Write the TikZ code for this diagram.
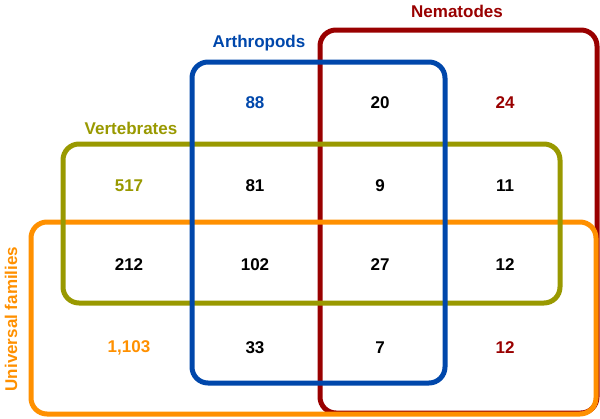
\documentclass[tikz,border=0pt]{standalone}
\usepackage{fontspec}
\setmainfont{Liberation Sans}
\definecolor{nemred}{HTML}{990000}
\definecolor{artblue}{HTML}{0047AB}
\definecolor{vertolive}{HTML}{999900}
\definecolor{univorange}{HTML}{FF9000}
\begin{document}
\begin{tikzpicture}[x=1pt,y=-1pt,
  setbox/.style={line width=5pt,rounded corners=16pt},
  num/.style={font=\fontsize{17}{20}\selectfont\bfseries,text=black},
  lab/.style={font=\fontsize{17}{20}\selectfont\bfseries}]
\useasboundingbox (0,0) rectangle (600,418);
% sets
\draw[setbox,nemred] (320,30) rectangle (597,413);
\draw[setbox,univorange] (31,222) rectangle (596,414);
\draw[setbox,vertolive] (63,144) rectangle (560,303);
\draw[setbox,artblue] (192,62) rectangle (445,383);
% labels
\node[lab,text=nemred] (lnem) at (457,11) {Nematodes};
\node[lab,text=artblue] (lart) at (259,43) {Arthropods};
\node[lab,text=vertolive] (lvert) at (131,128) {Vertebrates};
\node[lab,text=univorange,rotate=90] (luni) at (11,319) {Universal families};
% numbers
\node[num,text=artblue] (n88) at (255,103) {88};
\node[num] (n20) at (380,103) {20};
\node[num,text=nemred] (n24) at (505,103) {24};
\node[num,text=vertolive] (n517) at (129,186) {517};
\node[num] (n81) at (255,186) {81};
\node[num] (n9) at (380,186) {9};
\node[num] (n11) at (505,186) {11};
\node[num] (n212) at (129,265) {212};
\node[num] (n102) at (255,265) {102};
\node[num] (n27) at (380,265) {27};
\node[num] (n12a) at (505,265) {12};
\node[num,text=univorange] (n1103) at (129,348) {1,103};
\node[num] (n33) at (255,348) {33};
\node[num] (n7) at (380,348) {7};
\node[num,text=nemred] (n12b) at (505,348) {12};
\end{tikzpicture}
\end{document}
